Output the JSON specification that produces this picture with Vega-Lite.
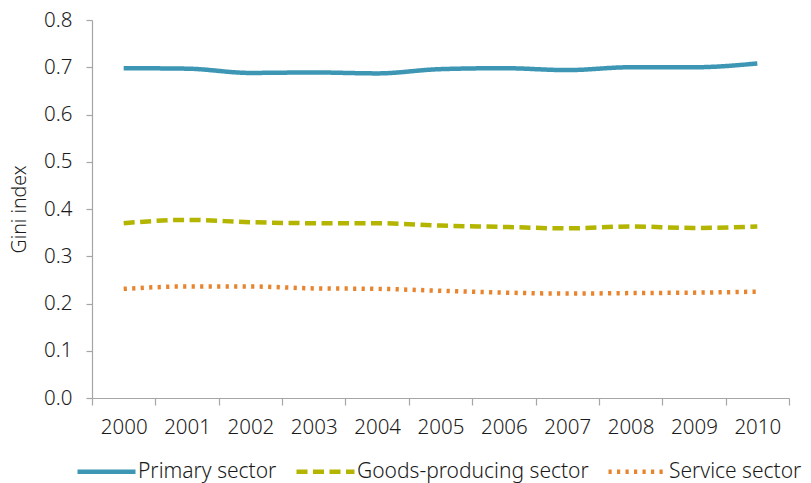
{
  "$schema": "https://vega.github.io/schema/vega-lite/v6.json",
  "width": 697,
  "height": 378,
  "autosize": {"type": "none"},
  "padding": {"left": 92, "top": 20, "right": 22, "bottom": 85},
  "background": "white",
  "config": {
    "font": "Noto Sans",
    "view": {"stroke": null},
    "axis": {
      "grid": false,
      "domainColor": "#a6a6a6",
      "tickColor": "#a6a6a6",
      "domainWidth": 1.2,
      "tickWidth": 1.2,
      "labelColor": "#1a1a1a",
      "titleColor": "#1a1a1a",
      "labelFontSize": 20.5,
      "labelFontWeight": 300,
      "titleFontSize": 19.5,
      "titleFontWeight": 300
    },
    "legend": {
      "orient": "none",
      "legendX": -17,
      "legendY": 420,
      "direction": "horizontal",
      "title": null,
      "symbolType": "stroke",
      "symbolSize": 3364,
      "labelFontSize": 21,
      "labelFontWeight": 350,
      "labelColor": "#1a1a1a",
      "labelLimit": 400,
      "labelOffset": 0,
      "columnPadding": 10
    }
  },
  "data": {
    "values": [
      {"year": "2000", "sector": "Primary sector", "gini": 0.698},
      {"year": "2001", "sector": "Primary sector", "gini": 0.697},
      {"year": "2002", "sector": "Primary sector", "gini": 0.688},
      {"year": "2003", "sector": "Primary sector", "gini": 0.689},
      {"year": "2004", "sector": "Primary sector", "gini": 0.687},
      {"year": "2005", "sector": "Primary sector", "gini": 0.696},
      {"year": "2006", "sector": "Primary sector", "gini": 0.698},
      {"year": "2007", "sector": "Primary sector", "gini": 0.694},
      {"year": "2008", "sector": "Primary sector", "gini": 0.700},
      {"year": "2009", "sector": "Primary sector", "gini": 0.700},
      {"year": "2010", "sector": "Primary sector", "gini": 0.708},
      {"year": "2000", "sector": "Goods-producing sector", "gini": 0.370},
      {"year": "2001", "sector": "Goods-producing sector", "gini": 0.377},
      {"year": "2002", "sector": "Goods-producing sector", "gini": 0.372},
      {"year": "2003", "sector": "Goods-producing sector", "gini": 0.370},
      {"year": "2004", "sector": "Goods-producing sector", "gini": 0.370},
      {"year": "2005", "sector": "Goods-producing sector", "gini": 0.365},
      {"year": "2006", "sector": "Goods-producing sector", "gini": 0.362},
      {"year": "2007", "sector": "Goods-producing sector", "gini": 0.359},
      {"year": "2008", "sector": "Goods-producing sector", "gini": 0.363},
      {"year": "2009", "sector": "Goods-producing sector", "gini": 0.360},
      {"year": "2010", "sector": "Goods-producing sector", "gini": 0.363},
      {"year": "2000", "sector": "Service sector", "gini": 0.231},
      {"year": "2001", "sector": "Service sector", "gini": 0.236},
      {"year": "2002", "sector": "Service sector", "gini": 0.236},
      {"year": "2003", "sector": "Service sector", "gini": 0.232},
      {"year": "2004", "sector": "Service sector", "gini": 0.231},
      {"year": "2005", "sector": "Service sector", "gini": 0.227},
      {"year": "2006", "sector": "Service sector", "gini": 0.223},
      {"year": "2007", "sector": "Service sector", "gini": 0.221},
      {"year": "2008", "sector": "Service sector", "gini": 0.222},
      {"year": "2009", "sector": "Service sector", "gini": 0.223},
      {"year": "2010", "sector": "Service sector", "gini": 0.225}
    ]
  },
  "mark": {"type": "line", "interpolate": "monotone", "strokeCap": "butt"},
  "encoding": {
    "x": {
      "field": "year",
      "type": "ordinal",
      "bandPosition": 0.5,
      "scale": {"type": "band", "paddingInner": 0, "paddingOuter": 0},
      "axis": {"title": null, "labelAngle": 0, "tickBand": "extent", "tickSize": 7, "labelPadding": 12}
    },
    "y": {
      "field": "gini",
      "type": "quantitative",
      "scale": {"domain": [0, 0.8]},
      "axis": {
        "title": "Gini index",
        "format": ".1f",
        "values": [0, 0.1, 0.2, 0.3, 0.4, 0.5, 0.6, 0.7, 0.8],
        "tickSize": 6,
        "labelPadding": 14,
        "titlePadding": 14
      }
    },
    "color": {
      "field": "sector",
      "type": "nominal",
      "scale": {
        "domain": ["Primary sector", "Goods-producing sector", "Service sector"],
        "range": ["#3c96b4", "#b3b500", "#e8842e"]
      }
    },
    "strokeDash": {
      "field": "sector",
      "type": "nominal",
      "scale": {
        "domain": ["Primary sector", "Goods-producing sector", "Service sector"],
        "range": [[1, 0], [11, 5.5], [3.2, 5.3]]
      }
    },
    "strokeWidth": {
      "field": "sector",
      "type": "nominal",
      "scale": {
        "domain": ["Primary sector", "Goods-producing sector", "Service sector"],
        "range": [4.5, 4.5, 3.5]
      }
    }
  }
}
